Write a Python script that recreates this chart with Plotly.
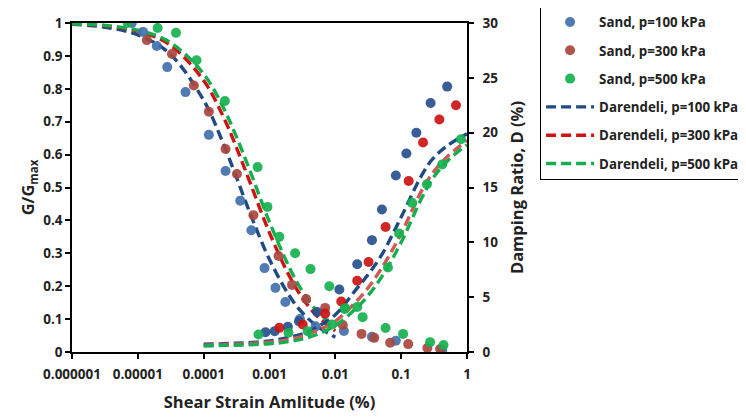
import plotly.graph_objects as go

# ---------------- data ----------------
# Sand, measured G/Gmax
g100_x = [8.1e-6, 1.2e-5, 1.94e-5, 2.8e-5, 5.3e-5, 1.2e-4, 2.15e-4, 3.6e-4, 5.3e-4, 8.4e-4,
          1.23e-3, 1.74e-3, 2.9e-3, 5.0e-3, 0.0135, 0.036, 0.083, 0.42]
g100_y = [1.0, 0.973, 0.93, 0.866, 0.79, 0.66, 0.55, 0.46, 0.37, 0.255,
          0.195, 0.152, 0.10, 0.078, 0.064, 0.046, 0.034, 0.006]
g300_x = [1.37e-5, 3.3e-5, 7.1e-5, 1.2e-4, 2.15e-4, 3.2e-4, 5.7e-4, 1.37e-3, 2.2e-3, 3.6e-3,
          7.0e-3, 0.013, 0.025, 0.039, 0.068, 0.128, 0.25, 0.39]
g300_y = [0.948, 0.906, 0.81, 0.73, 0.617, 0.541, 0.416, 0.292, 0.204, 0.161,
          0.134, 0.082, 0.055, 0.043, 0.028, 0.024, 0.012, 0.009]
g500_x = [7.0e-6, 2.0e-5, 3.8e-5, 7.8e-5, 2.1e-4, 6.6e-4, 9.3e-4, 1.41e-3, 2.45e-3, 4.2e-3,
          8.1e-3, 0.0138, 0.026, 0.058, 0.107, 0.275, 0.44]
g500_y = [1.0, 0.985, 0.97, 0.887, 0.763, 0.562, 0.441, 0.35, 0.30, 0.252,
          0.20, 0.131, 0.106, 0.073, 0.055, 0.030, 0.021]

# Sand, measured damping ratio D (%)
d100_x = [8.7e-4, 1.2e-3, 1.9e-3, 2.8e-3, 5.3e-3, 0.0115, 0.0215, 0.036, 0.051, 0.083,
          0.12, 0.17, 0.28, 0.50]
d100_y = [1.8, 1.9, 2.3, 2.8, 3.65, 5.7, 8.0, 10.2, 13.0, 16.1, 18.1, 20.0, 22.7, 24.2]
d300_x = [1.41e-3, 3.2e-3, 7.0e-3, 0.0123, 0.0215, 0.032, 0.058, 0.13, 0.215, 0.38, 0.68]
d300_y = [2.2, 2.5, 3.5, 4.6, 6.5, 8.2, 11.4, 15.6, 19.1, 21.2, 22.5]
d500_x = [6.8e-4, 1.94e-3, 3.8e-3, 8.9e-3, 0.0141, 0.0215, 0.063, 0.093, 0.147, 0.246, 0.42, 0.81]
d500_y = [1.6, 1.75, 1.9, 2.5, 4.0, 4.1, 7.7, 10.8, 13.6, 15.3, 17.1, 19.4]

# Darendeli curves, G/Gmax
dg_x = [1e-6, 3e-6, 1e-5, 3e-5, 1e-4, 2e-4, 3e-4, 5e-4, 1e-3, 2e-3, 3e-3, 5e-3, 1e-2]
dg100 = [0.996, 0.988, 0.964, 0.908, 0.765, 0.632, 0.542, 0.425, 0.281, 0.171, 0.124, 0.082, 0.045]
dg300 = [0.997, 0.992, 0.975, 0.935, 0.825, 0.714, 0.632, 0.518, 0.362, 0.231, 0.171, 0.114, 0.064]
dg500 = [0.997, 0.993, 0.978, 0.943, 0.845, 0.742, 0.664, 0.553, 0.395, 0.257, 0.192, 0.129, 0.073]

# Darendeli curves, damping D (%)
dd_x = [1e-4, 3e-4, 1e-3, 2e-3, 3e-3, 5e-3, 0.01, 0.02, 0.03, 0.05, 0.1, 0.2, 0.3, 0.5, 1.0]
dd100 = [0.70, 0.80, 1.0, 1.35, 1.6, 2.2, 3.4, 5.6, 6.9, 8.8, 12.3, 16.0, 17.6, 18.8, 19.9]
dd300 = [0.62, 0.70, 0.9, 1.15, 1.4, 1.9, 2.8, 4.5, 5.7, 7.6, 10.8, 14.6, 16.3, 17.8, 19.3]
dd500 = [0.55, 0.62, 0.75, 0.95, 1.15, 1.55, 2.4, 3.9, 5.0, 6.8, 10.0, 13.9, 15.8, 17.4, 18.9]

x_tickvals = [1e-6, 1e-5, 1e-4, 1e-3, 1e-2, 1e-1, 1]
x_ticktext = ["0.000001", "0.00001", "0.0001", "0.001", "0.01", "0.1", "1"]

names_sand = ["Sand, p=100 kPa", "Sand, p=300 kPa", "Sand, p=500 kPa"]
names_dar = ["Darendeli, p=100 kPa", "Darendeli, p=300 kPa", "Darendeli, p=500 kPa"]

# ---------------- styling ----------------
FONT = "Open Sans"
pt_g = ["#4270AC", "#A8463F", "#16B14F"]
pt_d = ["#27508E", "#CC1412", "#16B14F"]
ln_g = ["#1F4A85", "#D01212", "#14AE4E"]
ln_d = ["#1F4A85", "#CF5A55", "#14AE4E"]
MS = 10
DASH = "10px,5px"
LW = 3.4

fig = go.Figure()

G_sets = [(g100_x, g100_y), (g300_x, g300_y), (g500_x, g500_y)]
D_sets = [(d100_x, d100_y), (d300_x, d300_y), (d500_x, d500_y)]
DG = [dg100, dg300, dg500]
DD = [dd100, dd300, dd500]

for i in range(3):
    fig.add_trace(go.Scatter(x=dg_x, y=DG[i], mode="lines", name=names_dar[i],
                             legendgroup="dar%d" % i, legendrank=10 + i,
                             line=dict(color=ln_g[i], width=LW, dash=DASH, shape="spline")))
    fig.add_trace(go.Scatter(x=dd_x, y=DD[i], mode="lines", name=names_dar[i],
                             legendgroup="dar%d" % i, showlegend=False, yaxis="y2",
                             line=dict(color=ln_d[i], width=LW, dash=DASH, shape="spline")))

for i in range(3):
    fig.add_trace(go.Scatter(x=G_sets[i][0], y=G_sets[i][1], mode="markers", name=names_sand[i],
                             legendgroup="sand%d" % i, legendrank=i,
                             marker=dict(color=pt_g[i], size=MS, opacity=0.92)))
    fig.add_trace(go.Scatter(x=D_sets[i][0], y=D_sets[i][1], mode="markers", name=names_sand[i],
                             legendgroup="sand%d" % i, showlegend=False, yaxis="y2",
                             marker=dict(color=pt_d[i], size=MS, opacity=0.92)))

axis_font = dict(family=FONT, size=13.5, color="#222222", weight="bold")
title_font = dict(family=FONT, size=16.5, color="#222222", weight="bold")

common_axis = dict(showgrid=False, zeroline=False, showline=True, linecolor="black",
                   linewidth=1.5, ticks="outside", ticklen=5, tickcolor="black",
                   tickwidth=1.5, tickfont=axis_font, automargin=False)

fig.update_layout(
    width=746, height=418,
    margin=dict(l=64, r=287, t=15, b=74, autoexpand=False),
    paper_bgcolor="white", plot_bgcolor="white",
    font=dict(family=FONT, color="#222222"),
    xaxis=dict(type="log", range=[-6, 0], tickvals=x_tickvals, ticktext=x_ticktext,
               mirror=True, ticklabelstandoff=4, **common_axis,
               title=dict(text="Shear Strain Amlitude (%)", font=title_font, standoff=14)),
    yaxis=dict(range=[0, 1], dtick=0.1, tickformat="~g", **common_axis,
               title=dict(text="G/G<sub>max</sub>", font=title_font, standoff=4)),
    yaxis2=dict(range=[0, 30], dtick=5, overlaying="y", side="right",
                ticklabelstandoff=6, **common_axis,
                title=dict(text="Damping Ratio, D (%)", font=title_font, standoff=14)),
    legend=dict(x=1.185, y=1.052, xanchor="left", yanchor="top",
                bordercolor="black", borderwidth=1, bgcolor="white",
                font=dict(family=FONT, size=13.3, color="#222222", weight="bold"),
                itemwidth=48, tracegroupgap=8, traceorder="grouped"),
    showlegend=True,
)

fig.write_html("out.html")
